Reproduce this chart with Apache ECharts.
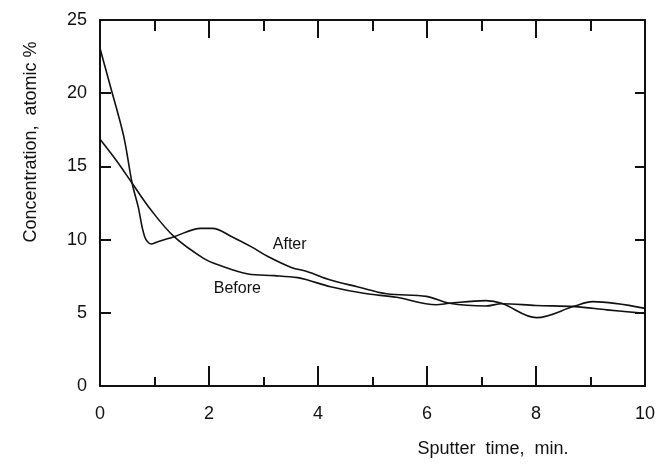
<!DOCTYPE html>
<html>
<head>
<meta charset="utf-8">
<script src="https://cdn.jsdelivr.net/npm/echarts@6/dist/echarts.min.js"></script>
<style>
html,body{margin:0;padding:0;background:#fff;}
#chart{width:658px;height:466px;}
</style>
</head>
<body>
<div id="chart"></div>
<script>
// Sputter time (min) and concentration (atomic %)
const afterTime = [0, 0.1, 0.21, 0.33, 0.45, 0.59, 0.70, 0.82, 0.94, 1.06, 1.36, 1.85, 2.06, 2.42, 2.78, 3.09, 3.51, 3.81, 4.23, 4.72, 5.26, 5.99, 6.41, 7.08, 7.37, 8.0, 8.71, 9.3, 10];
const afterConc = [23.07, 21.7, 20.2, 18.6, 16.8, 13.85, 12.25, 10.2, 9.7, 9.86, 10.2, 10.77, 10.77, 10.2, 9.5, 8.83, 8.1, 7.81, 7.24, 6.78, 6.3, 6.12, 5.65, 5.46, 5.62, 5.5, 5.42, 5.2, 4.96];
const beforeTime = [0, 0.3, 0.59, 0.94, 1.36, 1.9, 2.18, 2.72, 3.2, 3.63, 3.81, 4.23, 4.84, 5.44, 6.17, 6.41, 7.08, 7.37, 8.01, 8.71, 9.04, 10];
const beforeConc = [16.85, 15.4, 13.85, 12.0, 10.2, 8.72, 8.26, 7.65, 7.54, 7.4, 7.24, 6.78, 6.33, 6.06, 5.55, 5.65, 5.83, 5.65, 4.67, 5.46, 5.76, 5.3];
const xTicks = [0, 2, 4, 6, 8, 10];
const yTicks = [0, 5, 10, 15, 20, 25];
const xName = 'Sputter  time,  min.';
const yName = 'Concentration,  atomic %';
const seriesNames = ['After', 'Before'];

const FONT = '"Liberation Sans", Arial, Helvetica, sans-serif';
const INK = '#111';
const pairs = (xs, ys) => xs.map((x, i) => [x, ys[i]]);

const chart = echarts.init(document.getElementById('chart'), null, {renderer: 'canvas'});
const axisLine = {show: true, onZero: false, lineStyle: {color: INK, width: 2}};
const option = {
  backgroundColor: '#fff',
  animation: false,
  grid: {left: 100, right: 7, top: 20, bottom: 80, containLabel: false},
  xAxis: [
    {
      type: 'value', position: 'bottom', min: xTicks[0], max: xTicks[xTicks.length - 1], interval: 2,
      axisLine: axisLine,
      axisTick: {show: true, inside: true, length: 20, lineStyle: {color: INK, width: 2}},
      minorTick: {show: true, splitNumber: 2, length: 9, lineStyle: {color: INK, width: 2}},
      splitLine: {show: false},
      axisLabel: {color: INK, fontFamily: FONT, fontSize: 18, margin: 19}
    },
    {
      type: 'value', position: 'top', min: xTicks[0], max: xTicks[xTicks.length - 1], interval: 2,
      axisLine: axisLine,
      axisTick: {show: true, inside: true, length: 18, lineStyle: {color: INK, width: 2}},
      minorTick: {show: true, splitNumber: 2, length: 11, lineStyle: {color: INK, width: 2}},
      splitLine: {show: false},
      axisLabel: {show: false}
    }
  ],
  yAxis: [
    {
      type: 'value', position: 'left', min: yTicks[0], max: yTicks[yTicks.length - 1], interval: 5,
      axisLine: axisLine,
      axisTick: {show: true, inside: true, length: 11, lineStyle: {color: INK, width: 2}},
      splitLine: {show: false},
      axisLabel: {color: INK, fontFamily: FONT, fontSize: 18, margin: 13}
    },
    {
      type: 'value', position: 'right', min: yTicks[0], max: yTicks[yTicks.length - 1], interval: 5,
      axisLine: axisLine,
      axisTick: {show: true, inside: true, length: 10, lineStyle: {color: INK, width: 2}},
      splitLine: {show: false},
      axisLabel: {show: false}
    }
  ],
  graphic: [
    {type: 'text', x: 493, y: 449, style: {text: xName, font: '18px ' + FONT, fill: INK, textAlign: 'center', textVerticalAlign: 'middle'}},
    {type: 'text', x: 31, y: 142, rotation: Math.PI / 2, style: {text: yName, font: '18px ' + FONT, fill: INK, textAlign: 'center', textVerticalAlign: 'middle'}}
  ],
  series: [
    {
      name: seriesNames[0], type: 'line', xAxisIndex: 0, yAxisIndex: 0,
      data: pairs(afterTime, afterConc), showSymbol: false, symbol: 'none',
      smooth: 0.35,
      lineStyle: {color: INK, width: 1.6},
      markPoint: {
        symbol: 'circle', symbolSize: 0,
        label: {show: true, position: 'inside', color: INK, fontFamily: FONT, fontSize: 16, formatter: seriesNames[0]},
        data: [{coord: [3.48, 9.63]}]
      }
    },
    {
      name: seriesNames[1], type: 'line', xAxisIndex: 0, yAxisIndex: 0,
      data: pairs(beforeTime, beforeConc), showSymbol: false, symbol: 'none',
      smooth: 0.35,
      lineStyle: {color: INK, width: 1.6},
      markPoint: {
        symbol: 'circle', symbolSize: 0,
        label: {show: true, position: 'inside', color: INK, fontFamily: FONT, fontSize: 16, formatter: seriesNames[1]},
        data: [{coord: [2.52, 6.63]}]
      }
    }
  ]
};
chart.setOption(option);
</script>
</body>
</html>
